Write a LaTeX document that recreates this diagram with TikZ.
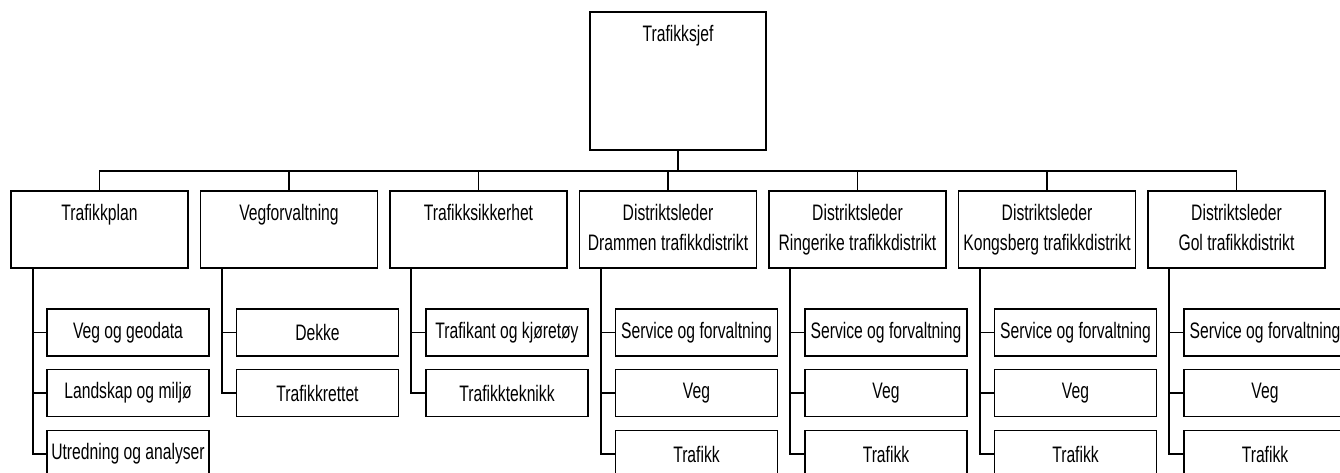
\documentclass[tikz,border=0pt]{standalone}
\usepackage{fontspec}
\setmainfont{Liberation Sans}[FakeStretch=0.70]
\usepackage{tikz}
\usetikzlibrary{calc, positioning}
\tikzset{
	boxnode/.style={
			draw=black,
			line width=1.3pt,
			fill=white,
			inner sep=0pt,
			font=\fontsize{16.8}{22.5}\selectfont
		},
	chiefnode/.style={
			boxnode,
			minimum width=132pt,
			minimum height=103.5pt
		},
	headnode/.style={
			boxnode,
			minimum width=132.75pt,
			minimum height=57.75pt
		},
	unitnode/.style={
			boxnode,
			minimum width=121.5pt,
			minimum height=35.25pt
		},
	toptext/.style={
			anchor=north,
			align=center,
			inner sep=0pt,
			yshift=-10.5pt,
			font=\fontsize{16.8}{22.5}\selectfont
		},
	conn/.style={
			draw=black,
			line width=1.3pt
		}
}

\begin{document}
\begin{tikzpicture}[x=0.75pt, y=-0.75pt]
\useasboundingbox (0,0) rectangle (1340,472);

% leader
\node[chiefnode, label={[toptext]north:Trafikksjef}] (tSjef) at (678,81) {};
\coordinate (bus) at (678,171);

% sections
\node[headnode, label={[toptext]north:Trafikkplan}] (tPlan) at (99.5,229.5) {};
\node[headnode, label={[toptext]north:Vegforvaltning}] (tVeg) at (289,229.5) {};
\node[headnode, label={[toptext]north:Trafikksikkerhet}] (tSik) at (478.5,229.5) {};
\node[headnode, label={[toptext]north:Distriktsleder\\Drammen trafikkdistrikt}] (tDram) at (668,229.5) {};
\node[headnode, label={[toptext]north:Distriktsleder\\Ringerike trafikkdistrikt}] (tRing) at (857.5,229.5) {};
\node[headnode, label={[toptext]north:Distriktsleder\\Kongsberg trafikkdistrikt}] (tKong) at (1047,229.5) {};
\node[headnode, label={[toptext]north:Distriktsleder\\Gol trafikkdistrikt}] (tGol) at (1236.5,229.5) {};

% units
\node[unitnode] (tPlanA) at (128,332.5) {Veg og geodata};
\node[unitnode] (tPlanB) at (128,393) {Landskap og miljø};
\node[unitnode] (tPlanC) at (128,454) {Utredning og analyser};

\node[unitnode] (tVegA) at (317.5,332.5) {Dekke};
\node[unitnode] (tVegB) at (317.5,393) {Trafikkrettet};

\node[unitnode] (tSikA) at (507,332.5) {Trafikant og kjøretøy};
\node[unitnode] (tSikB) at (507,393) {Trafikkteknikk};

\node[unitnode] (tDramA) at (696.5,332.5) {Service og forvaltning};
\node[unitnode] (tDramB) at (696.5,393) {Veg};
\node[unitnode] (tDramC) at (696.5,454) {Trafikk};

\node[unitnode] (tRingA) at (886,332.5) {Service og forvaltning};
\node[unitnode] (tRingB) at (886,393) {Veg};
\node[unitnode] (tRingC) at (886,454) {Trafikk};

\node[unitnode] (tKongA) at (1075.5,332.5) {Service og forvaltning};
\node[unitnode] (tKongB) at (1075.5,393) {Veg};
\node[unitnode] (tKongC) at (1075.5,454) {Trafikk};

\node[unitnode] (tGolA) at (1265,332.5) {Service og forvaltning};
\node[unitnode] (tGolB) at (1265,393) {Veg};
\node[unitnode] (tGolC) at (1265,454) {Trafikk};

% bus lines
\draw[conn] (tSjef.south) -- (bus);
\draw[conn] (tPlan.north) |- (bus);
\draw[conn] (tVeg.north) |- (bus);
\draw[conn] (tSik.north) |- (bus);
\draw[conn] (tDram.north) |- (bus);
\draw[conn] (tRing.north) |- (bus);
\draw[conn] (tKong.north) |- (bus);
\draw[conn] (tGol.north) |- (bus);

% unit lines
\draw[conn] ($(tPlan.south west)+(23,0)$) |- (tPlanA.west);
\draw[conn] ($(tPlan.south west)+(23,0)$) |- (tPlanB.west);
\draw[conn] ($(tPlan.south west)+(23,0)$) |- (tPlanC.west);
\draw[conn] ($(tVeg.south west)+(22,0)$) |- (tVegA.west);
\draw[conn] ($(tVeg.south west)+(22,0)$) |- (tVegB.west);
\draw[conn] ($(tSik.south west)+(22,0)$) |- (tSikA.west);
\draw[conn] ($(tSik.south west)+(22,0)$) |- (tSikB.west);
\draw[conn] ($(tDram.south west)+(22,0)$) |- (tDramA.west);
\draw[conn] ($(tDram.south west)+(22,0)$) |- (tDramB.west);
\draw[conn] ($(tDram.south west)+(22,0)$) |- (tDramC.west);
\draw[conn] ($(tRing.south west)+(22,0)$) |- (tRingA.west);
\draw[conn] ($(tRing.south west)+(22,0)$) |- (tRingB.west);
\draw[conn] ($(tRing.south west)+(22,0)$) |- (tRingC.west);
\draw[conn] ($(tKong.south west)+(22,0)$) |- (tKongA.west);
\draw[conn] ($(tKong.south west)+(22,0)$) |- (tKongB.west);
\draw[conn] ($(tKong.south west)+(22,0)$) |- (tKongC.west);
\draw[conn] ($(tGol.south west)+(22,0)$) |- (tGolA.west);
\draw[conn] ($(tGol.south west)+(22,0)$) |- (tGolB.west);
\draw[conn] ($(tGol.south west)+(22,0)$) |- (tGolC.west);

\end{tikzpicture}
\end{document}
